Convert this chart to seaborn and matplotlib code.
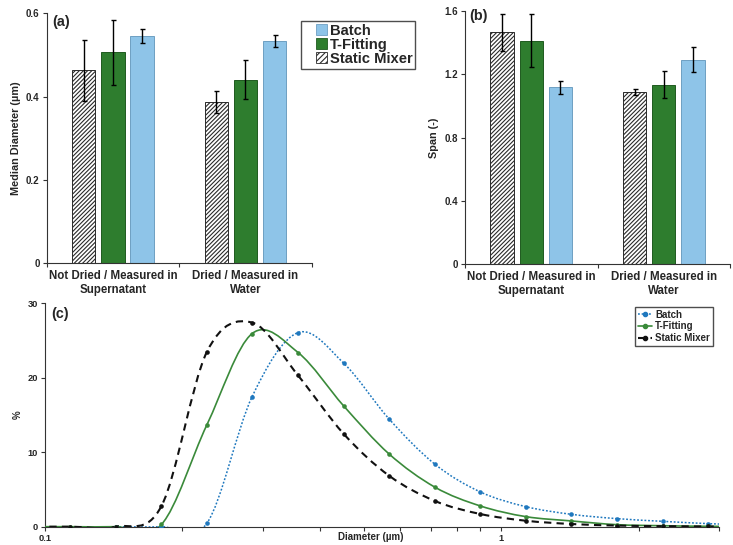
import numpy as np
import pandas as pd
import matplotlib
matplotlib.use("Agg")
import matplotlib.pyplot as plt
import seaborn as sns
from matplotlib.path import Path
from matplotlib.patches import PathPatch, Patch, Rectangle
from matplotlib.lines import Line2D
from matplotlib.legend_handler import HandlerPatch
from matplotlib.ticker import FixedLocator, FixedFormatter, NullFormatter

# ---------------- data ----------------
conditions = ["Not Dried / Measured in\nSupernatant", "Dried / Measured in\nWater"]
mixers = ["Static Mixer", "T-Fitting", "Batch"]

median_static = [0.463, 0.387]
median_static_err = [0.074, 0.026]
median_tfit = [0.506, 0.441]
median_tfit_err = [0.078, 0.047]
median_batch = [0.546, 0.534]
median_batch_err = [0.017, 0.015]

span_static = [1.463, 1.085]
span_static_err = [0.115, 0.020]
span_tfit = [1.409, 1.133]
span_tfit_err = [0.167, 0.084]
span_batch = [1.117, 1.291]
span_batch_err = [0.042, 0.077]

diameter = [0.0901, 0.1134, 0.1428, 0.180, 0.2263, 0.2844, 0.3586, 0.4516, 0.5675,
            0.7156, 0.900, 1.132, 1.425, 1.794, 2.26, 2.84, 3.58]
pct_batch = [np.nan, np.nan, 0, 0, 0.45, 17.46, 26.06, 21.94, 14.47, 8.38, 4.66,
             2.69, 1.66, 1.08, 0.72, 0.41, 0.2]
pct_tfit = [0, 0, 0, 0.3, 13.66, 25.93, 23.38, 16.2, 9.77, 5.3, 2.78, 1.35, 0.77,
            0.27, 0.13, 0.05, 0.02]
pct_static = [0, 0, 0, 2.78, 23.46, 27.4, 20.3, 12.45, 6.85, 3.45, 1.7, 0.8, 0.36,
              0.15, 0.07, 0.03, 0.01]

# ---------------- style ----------------
sns.set_style("ticks")
plt.rcParams["font.family"] = ["Liberation Sans", "DejaVu Sans"]
plt.rcParams["font.weight"] = "bold"
plt.rcParams["axes.labelweight"] = "bold"
plt.rcParams["hatch.linewidth"] = 0.8

C_STATIC = "#FFFFFF"
C_TFIT = "#2E7D2E"
C_BATCH = "#8EC4E8"
bar_palette = {"Static Mixer": C_STATIC, "T-Fitting": C_TFIT, "Batch": C_BATCH}
edge_cols = {"Static Mixer": "#2A2A2A", "T-Fitting": "#1F5A1F", "Batch": "#6E9FC2"}

fig = plt.figure(figsize=(7.33, 5.45), dpi=100)
ax_a = fig.add_axes([0.0637, 0.5169, 0.3615, 0.4587])
ax_b = fig.add_axes([0.6344, 0.5150, 0.3615, 0.4654])
ax_c = fig.add_axes([0.0614, 0.0336, 0.9195, 0.4100])


def bar_panel(ax, vals, errs, ylim, yticks, ylabel, tag, tagpos):
    rows = []
    for m, v in zip(mixers, vals):
        for c, val in zip(conditions, v):
            rows.append({"condition": c, "mixer": m, "value": val})
    df = pd.DataFrame(rows)
    sns.barplot(data=df, x="condition", y="value", hue="mixer", order=conditions,
                hue_order=mixers, palette=bar_palette, saturation=1, width=0.66,
                gap=0.2, errorbar=None, legend=False, ax=ax)
    for cont, m, e in zip(ax.containers, mixers, errs):
        for bar, ee in zip(cont, e):
            bar.set_edgecolor(edge_cols[m])
            bar.set_linewidth(0.7)
            if m == "Static Mixer":
                bar.set_hatch("////////")
            ax.errorbar(bar.get_x() + bar.get_width() / 2, bar.get_height(), yerr=ee,
                        color="black", capsize=1.8, elinewidth=1.0, capthick=1.0,
                        zorder=5)
    ax.set_xlim(-0.5, 1.5)
    ax.set_ylim(*ylim)
    ax.set_yticks(yticks)
    ax.set_yticklabels([("%g" % t) for t in yticks], fontsize=7)
    ax.set_xticks([0, 1])
    ax.set_xticklabels(conditions, fontsize=8.3, linespacing=1.2)
    ax.set_xticks([-0.5, 0.5, 1.5], minor=True)
    ax.tick_params(axis="x", which="major", length=0, pad=5)
    ax.tick_params(axis="x", which="minor", length=3, width=0.8, color="#333333")
    ax.tick_params(axis="y", length=3, width=0.8, color="#333333", pad=2)
    ax.set_xlabel("")
    ax.set_ylabel(ylabel, fontsize=7.8, labelpad=4)
    for s in ["top", "right"]:
        ax.spines[s].set_visible(False)
    for s in ["left", "bottom"]:
        ax.spines[s].set_color("#333333")
        ax.spines[s].set_linewidth(0.8)
    ax.text(tagpos[0], tagpos[1], tag, transform=ax.transAxes, fontsize=10.4,
            fontweight="bold", ha="left", va="center")


bar_panel(ax_a, [median_static, median_tfit, median_batch],
          [median_static_err, median_tfit_err, median_batch_err],
          (0, 0.6), [0, 0.2, 0.4, 0.6], "Median Diameter (µm)", "(a)", (0.02, 0.965))
bar_panel(ax_b, [span_static, span_tfit, span_batch],
          [span_static_err, span_tfit_err, span_batch_err],
          (0, 1.6), [0, 0.4, 0.8, 1.2, 1.6], "Span (-)", "(b)", (0.016, 0.979))


# legend for bar panels
def square_right(legend, orig_handle, xdescent, ydescent, width, height, fontsize):
    side = 8.0
    return Rectangle((width - side - xdescent, -ydescent + (height - side) / 2),
                     side, side)


leg_handles = [
    Patch(facecolor=C_BATCH, edgecolor=edge_cols["Batch"], linewidth=0.6, label="Batch"),
    Patch(facecolor=C_TFIT, edgecolor=edge_cols["T-Fitting"], linewidth=0.6, label="T-Fitting"),
    Patch(facecolor="white", edgecolor="#2A2A2A", hatch="//////", linewidth=0.6,
          label="Static Mixer"),
]
leg = fig.legend(handles=leg_handles, loc="upper left", bbox_to_anchor=(0.4106, 0.962),
                 frameon=True, fancybox=False, fontsize=10.6, handlelength=1.6,
                 handleheight=0.7, handletextpad=0.15, labelspacing=0.0,
                 borderpad=0.2, borderaxespad=0,
                 handler_map={Patch: HandlerPatch(patch_func=square_right)})
leg.get_frame().set_edgecolor("#222222")
leg.get_frame().set_linewidth(1.0)


# ---------------- panel (c) ----------------
def smooth_path(xs, ys):
    xs = np.asarray(xs, float)
    ys = np.asarray(ys, float)
    ok = ~np.isnan(ys)
    P = np.column_stack([np.log10(xs[ok]), ys[ok]])
    n = len(P)
    verts = [P[0]]
    codes = [Path.MOVETO]
    for i in range(n - 1):
        p0 = P[i - 1] if i > 0 else P[i]
        p1 = P[i]
        p2 = P[i + 1]
        p3 = P[i + 2] if i + 2 < n else P[i + 1]
        verts += [p1 + (p2 - p0) / 6.0, p2 - (p3 - p1) / 6.0, p2]
        codes += [Path.CURVE4] * 3
    verts = np.array(verts)
    verts[:, 0] = 10 ** verts[:, 0]
    return Path(verts, codes)


series_c = [
    ("Batch", pct_batch, "#1F78BE", (0, (1.2, 1.2)), 1.1),
    ("T-Fitting", pct_tfit, "#3A8A3A", "-", 1.2),
    ("Static Mixer", pct_static, "#111111", (0, (3.5, 2.5)), 1.5),
]
ax_c.set_xscale("log")
for name, vals, col, ls, lw in series_c:
    patch = PathPatch(smooth_path(diameter, vals), fill=False, edgecolor=col,
                      linestyle=ls, linewidth=lw, transform=ax_c.transData, zorder=3)
    ax_c.add_patch(patch)
    sns.scatterplot(x=diameter, y=vals, color=col, s=11, linewidth=0, ax=ax_c,
                    zorder=4, clip_on=True, legend=False)

ax_c.set_xlim(0.1, 3.0)
ax_c.set_ylim(0, 30)
ax_c.xaxis.set_major_locator(FixedLocator([0.1, 1]))
ax_c.xaxis.set_major_formatter(FixedFormatter(["0.1", "1"]))
ax_c.xaxis.set_minor_locator(FixedLocator([0.2, 0.3, 0.4, 0.5, 0.6, 0.7, 0.8, 0.9, 2, 3]))
ax_c.xaxis.set_minor_formatter(NullFormatter())
ax_c.set_yticks([0, 10, 20, 30])
ax_c.set_yticklabels(["0", "10", "20", "30"], fontsize=6.7)
for lab in ax_c.get_xticklabels():
    lab.set_fontsize(6.7)
ax_c.tick_params(axis="x", which="both", length=3, width=0.8, color="#333333", pad=2)
ax_c.tick_params(axis="y", length=3, width=0.8, color="#333333", pad=2)
ax_c.set_xlabel("Diameter (µm)", fontsize=7)
ax_c.xaxis.set_label_coords(0.483, -0.022)
ax_c.set_ylabel("%", fontsize=7, labelpad=2)
ax_c.yaxis.set_label_coords(-0.033, 0.5)
for s in ["top", "right"]:
    ax_c.spines[s].set_visible(False)
for s in ["left", "bottom"]:
    ax_c.spines[s].set_color("#333333")
    ax_c.spines[s].set_linewidth(0.8)
ax_c.text(0.01, 0.952, "(c)", transform=ax_c.transAxes, fontsize=10.4,
          fontweight="bold", ha="left", va="center")

leg_c_handles = [Line2D([], [], color=col, linestyle=ls, linewidth=lw, marker="o",
                        markersize=3, label=name)
                 for name, vals, col, ls, lw in series_c]
leg_c = ax_c.legend(handles=leg_c_handles, loc="upper right", bbox_to_anchor=(0.9907, 0.9848),
                    frameon=True, fancybox=False, fontsize=7, handlelength=1.5,
                    handletextpad=0.3, labelspacing=0.2, borderpad=0.3, borderaxespad=0)
leg_c.get_frame().set_edgecolor("#222222")
leg_c.get_frame().set_linewidth(1.0)

fig.savefig("out.png", dpi=100)
